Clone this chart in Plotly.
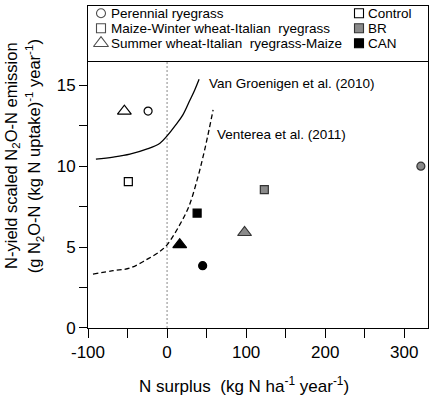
import plotly.graph_objects as go

# ---- data ----
treatments = ["Control", "BR", "CAN"]
perennial_x = [-24, 321, 45]
perennial_y = [13.4, 10.0, 3.85]
maize_x = [-49, 123, 38]
maize_y = [9.05, 8.55, 7.1]
summer_x = [-54, 98, 16]
summer_y = [13.4, 5.9, 5.15]

vg_x = [-90, -68, -47, -26, -9, 0, 11, 20, 29, 35, 40.5]
vg_y = [10.43, 10.56, 10.74, 11.05, 11.42, 11.87, 12.55, 13.17, 14.09, 14.71, 15.37]
ven_x = [-93.7, -68.4, -47.2, -26.1, -9.2, 0, 14.8, 27.5, 38, 45.6, 52, 58.2]
ven_y = [3.33, 3.54, 3.70, 4.22, 4.73, 5.14, 6.27, 7.5, 9.15, 10.6, 12.0, 13.47]

x_ticks = [-100, 0, 100, 200, 300]
x_labels = ["-100", "0", "100", "200", "300"]
y_ticks = [0, 5, 10, 15]
y_labels = ["0", "5", "10", "15"]

FONT = "Liberation Sans, Arial, sans-serif"
fills = ["white", "#8a8a8a", "black"]
lines = ["black", "#333333", "black"]

fig = go.Figure()

fig.add_trace(go.Scatter(x=vg_x, y=vg_y, mode="lines", line=dict(color="black", width=1.3, shape="spline"),
                         showlegend=False, hoverinfo="skip"))
fig.add_trace(go.Scatter(x=ven_x, y=ven_y, mode="lines",
                         line=dict(color="black", width=1.3, dash="5px,3px", shape="spline"),
                         showlegend=False, hoverinfo="skip"))

for xs, ys, sym, sz in [(perennial_x, perennial_y, "circle", 8),
                        (maize_x, maize_y, "square", 8),
                        (summer_x, summer_y, "triangle-up", 12)]:
    fig.add_trace(go.Scatter(x=xs, y=ys, mode="markers", showlegend=False,
                             marker=dict(symbol=sym, size=sz, color=fills,
                                         line=dict(color=lines, width=1.2))))

# legend panel (pixel-like coordinates on a second axis pair)
leg_rows = [13.3, 28.3, 43.3]
fig.add_trace(go.Scatter(x=[101, 101, 101], y=leg_rows, xaxis="x2", yaxis="y2", mode="markers",
                         showlegend=False, hoverinfo="skip",
                         marker=dict(symbol=["circle-open", "square-open", "triangle-up-open"],
                                     size=[9, 9, 13], color="black", line=dict(width=1.1))))
fig.add_trace(go.Scatter(x=[359, 359, 359], y=leg_rows, xaxis="x2", yaxis="y2", mode="markers",
                         showlegend=False, hoverinfo="skip",
                         marker=dict(symbol="square", size=9, color=fills,
                                     line=dict(color=lines, width=1.1))))

leg_text = ["Perennial ryegrass", "Maize-Winter wheat-Italian  ryegrass",
            "Summer wheat-Italian  ryegrass-Maize"]
annotations = []
for t, yy in zip(leg_text, leg_rows):
    annotations.append(dict(x=109, y=yy, xref="x2", yref="y2", text=t, showarrow=False,
                            xanchor="left", yanchor="middle", font=dict(size=13.5, family=FONT, color="black")))
for t, yy in zip(treatments, leg_rows):
    annotations.append(dict(x=366, y=yy, xref="x2", yref="y2", text=t, showarrow=False,
                            xanchor="left", yanchor="middle", font=dict(size=13.5, family=FONT, color="black")))

annotations += [
    dict(x=50, y=15.1, xref="x", yref="y", text="Van Groenigen et al. (2010)", showarrow=False,
         xanchor="left", yanchor="middle", font=dict(size=13.5, family=FONT, color="black")),
    dict(x=60.5, y=11.95, xref="x", yref="y", text="Venterea et al. (2011)", showarrow=False,
         xanchor="left", yanchor="middle", font=dict(size=13.5, family=FONT, color="black")),
    dict(x=0.459, y=-0.177, xref="paper", yref="paper",
         text="N surplus  (kg N ha<sup>-1</sup> year<sup>-1</sup>)",
         showarrow=False, xanchor="center", yanchor="middle",
         font=dict(size=17, family=FONT, color="black")),
    dict(x=-0.224, y=0.534, xref="paper", yref="paper", text="N-yield scaled N<sub>2</sub>O-N emission",
         showarrow=False, textangle=-90, xanchor="center", yanchor="middle",
         font=dict(size=16.5, family=FONT, color="black")),
    dict(x=-0.158, y=0.534, xref="paper", yref="paper",
         text="(g N<sub>2</sub>O-N (kg N uptake)<sup>-1</sup> year<sup>-1</sup>)",
         showarrow=False, textangle=-90, xanchor="center", yanchor="middle",
         font=dict(size=16.5, family=FONT, color="black")),
]

top_dom = (328.3 - 61) / 322.3

fig.update_layout(
    width=429, height=398,
    margin=dict(l=88, r=1, t=6, b=70, pad=0),
    paper_bgcolor="white", plot_bgcolor="white",
    font=dict(family=FONT, size=17, color="black"),
    xaxis=dict(range=[-100, 330], tickvals=x_ticks, ticktext=x_labels, ticks="outside", ticklen=9,
               tickwidth=1, tickcolor="black", showline=True, linecolor="black", linewidth=1, mirror=False,
               showgrid=False, zeroline=False, domain=[0, 1], anchor="y",
               minor=dict(dtick=50, tick0=-100, ticks="outside", ticklen=9, tickwidth=1, tickcolor="black",
                          showgrid=False),
               tickfont=dict(size=17, family=FONT, color="black")),
    yaxis=dict(range=[0, 16.5], tickvals=y_ticks, ticktext=y_labels, ticks="outside", ticklen=8,
               tickwidth=1, tickcolor="black", showline=True, linecolor="black", linewidth=1, mirror=True,
               showgrid=False, zeroline=False, domain=[0, top_dom], anchor="x",
               minor=dict(dtick=2.5, tick0=0, ticks="outside", ticklen=8, tickwidth=1, tickcolor="black",
                          showgrid=False),
               tickfont=dict(size=17, family=FONT, color="black")),
    xaxis2=dict(range=[88, 428], domain=[0, 1], anchor="y2", showline=True, linecolor="black", linewidth=1,
                mirror=True, showticklabels=False, ticks="", showgrid=False, zeroline=False, fixedrange=True),
    yaxis2=dict(range=[61, 6], domain=[top_dom, 1], anchor="x2", showline=True, linecolor="black",
                linewidth=1, mirror=True, showticklabels=False, ticks="", showgrid=False, zeroline=False,
                fixedrange=True),
    shapes=[dict(type="line", xref="x", yref="y domain", x0=0, x1=0, y0=0, y1=1,
                 line=dict(color="#888888", width=1, dash="2px,2px"), layer="below")],
    annotations=annotations,
    showlegend=False,
)

fig.write_html("out.html", config={"displayModeBar": False},
               post_script="document.body.style.margin='0';document.body.style.overflow='hidden';")
